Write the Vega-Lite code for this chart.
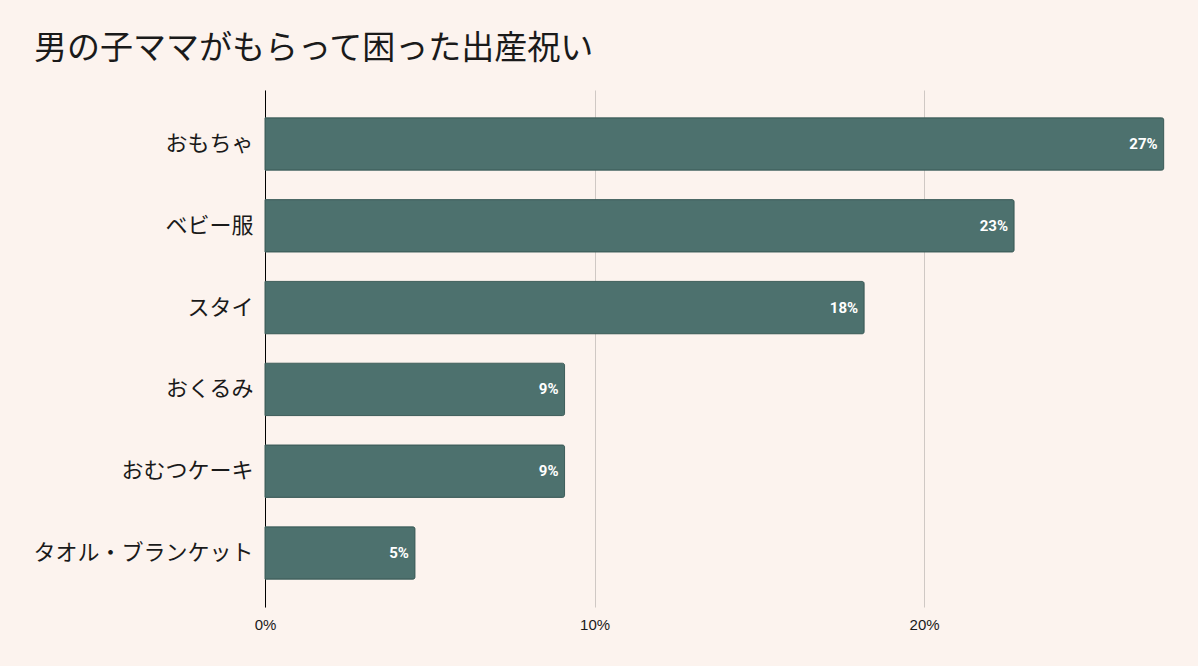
{
  "$schema": "https://vega.github.io/schema/vega-lite/v6.json",
  "autosize": {"type": "none"},
  "width": 900,
  "height": 517,
  "padding": {"left": 265, "top": 90, "right": 33, "bottom": 59},
  "background": "#FCF3EE",
  "title": {
    "text": "男の子ママがもらって困った出産祝い",
    "anchor": "start",
    "frame": "group",
    "dx": -231,
    "offset": 24,
    "font": "Noto Sans CJK JP",
    "fontSize": 33,
    "fontWeight": "normal",
    "color": "#1a1a1a"
  },
  "data": {
    "values": [
      {"item": "おもちゃ", "share": 0.2727},
      {"item": "ベビー服", "share": 0.2273},
      {"item": "スタイ", "share": 0.1818},
      {"item": "おくるみ", "share": 0.0909},
      {"item": "おむつケーキ", "share": 0.0909},
      {"item": "タオル・ブランケット", "share": 0.0455}
    ]
  },
  "config": {
    "view": {"stroke": null},
    "axis": {"labelFont": "Roboto", "titleFont": "Roboto"}
  },
  "encoding": {
    "y": {
      "field": "item",
      "type": "nominal",
      "sort": null,
      "scale": {"paddingInner": 0.36, "paddingOuter": 0.34},
      "axis": {
        "title": null,
        "ticks": false,
        "domain": true,
        "domainColor": "#000000",
        "domainWidth": 1,
        "labelFont": "Noto Sans CJK JP",
        "labelFontSize": 22,
        "labelColor": "#1a1a1a",
        "labelPadding": 12,
        "labelLimit": 400
      }
    },
    "x": {
      "field": "share",
      "type": "quantitative",
      "scale": {"domain": [0, 0.2731], "nice": false},
      "axis": {
        "title": null,
        "format": ".0%",
        "values": [0, 0.1, 0.2],
        "domain": false,
        "ticks": false,
        "grid": true,
        "gridColor": "#CFC8C4",
        "gridWidth": 1,
        "labelFont": "Liberation Sans",
        "labelFontSize": 15,
        "labelColor": "#1a1a1a",
        "labelPadding": 10,
        "labelFlush": false
      }
    }
  },
  "layer": [
    {
      "mark": {
        "type": "bar",
        "color": "#4D716E",
        "stroke": "#3E5E5B",
        "strokeWidth": 1,
        "cornerRadiusEnd": 2
      }
    },
    {
      "mark": {
        "type": "text",
        "align": "right",
        "baseline": "middle",
        "dx": -6,
        "color": "#FFFFFF",
        "font": "Roboto",
        "fontSize": 15,
        "fontWeight": "bold"
      },
      "encoding": {
        "text": {"field": "share", "type": "quantitative", "format": ".0%"}
      }
    }
  ]
}
